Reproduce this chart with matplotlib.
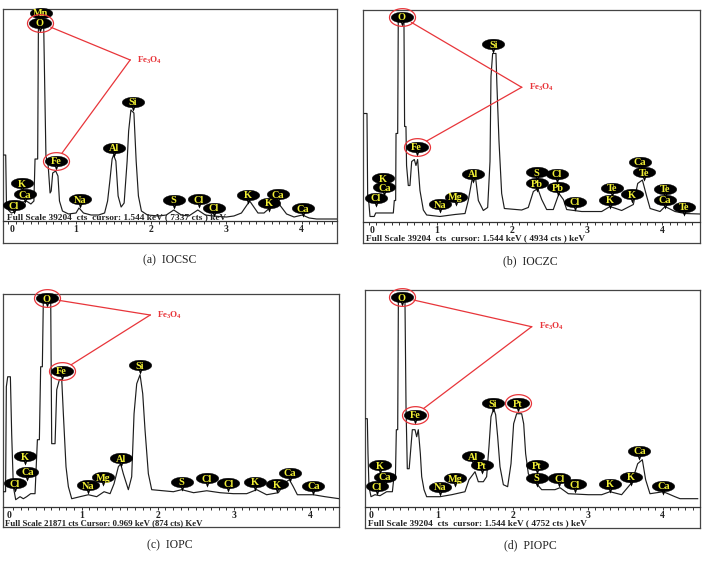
import numpy as np
import matplotlib
matplotlib.use("Agg")
import matplotlib.pyplot as plt
from matplotlib.path import Path

plt.rcParams['font.family'] = ['Liberation Serif', 'DejaVu Serif']
plt.rcParams['mathtext.default'] = 'regular'

# ---------------- data (keV, counts) ----------------
a_kev = [0.03, 0.065, 0.075, 0.10, 0.14, 0.18, 0.22, 0.26, 0.34, 0.40, 0.44, 0.455, 0.49, 0.50, 0.57, 0.585,
         0.60, 0.63, 0.655, 0.67, 0.69, 0.73, 0.76, 0.78, 0.82, 0.90, 1.00, 1.04, 1.10, 1.20, 1.30, 1.38,
         1.42, 1.45, 1.48, 1.50, 1.53, 1.56, 1.60, 1.64, 1.68, 1.70, 1.73, 1.77, 1.80, 1.83, 1.87, 1.95,
         2.10, 2.20, 2.30, 2.40, 2.50, 2.62, 2.72, 2.82, 3.00, 3.10, 3.20, 3.31, 3.42, 3.50, 3.59, 3.69,
         3.80, 3.90, 4.01, 4.10, 4.20, 4.47]
a_cts = [12220, 12220, 2960, 2040, 1480, 1670, 2590, 3330, 3700, 3150, 3700, 11480, 11480, 36300, 36300, 24080,
         12040, 10190, 5190, 5560, 8890, 9260, 8330, 3700, 1850, 1300, 1480, 2410, 1480, 1110, 1110, 1480,
         3700, 7410, 11480, 12220, 11110, 4630, 2590, 3330, 11110, 16670, 20560, 20000, 11110, 4630, 1850, 1110,
         930, 1110, 2040, 1110, 930, 2040, 1110, 930, 740, 930, 1480, 3700, 1480, 1480, 2590, 3330,
         1300, 740, 1110, 560, 370, 370]
a_tags = ['Mn', 'O', 'Fe', 'K', 'Ca', 'Cl', 'Na', 'Al', 'Si', 'S', 'Cl', 'Cl', 'K', 'K', 'Ca', 'Ca']
a_tag_kev = [0.53, 0.52, 0.74, 0.28, 0.32, 0.17, 1.05, 1.50, 1.76, 2.30, 2.63, 2.83, 3.29, 3.57, 3.69, 4.02]
a_tag_cts = [38580, 36720, 11170, 6980, 4940, 2960, 4020, 13580, 22090, 3890, 4020, 2460, 4820, 3390, 4940, 2350]

b_kev = [0.039, 0.074, 0.083, 0.10, 0.114, 0.17, 0.19, 0.424, 0.437, 0.455, 0.46, 0.482, 0.49, 0.565, 0.574,
         0.592, 0.60, 0.623, 0.645, 0.668, 0.703, 0.725, 0.747, 0.778, 0.823, 0.867, 1.044, 1.244, 1.377,
         1.42, 1.473, 1.518, 1.554, 1.62, 1.678, 1.709, 1.722, 1.744, 1.788, 1.80, 1.828, 1.864, 1.90, 2.13,
         2.218, 2.285, 2.343, 2.396, 2.462, 2.55, 2.626, 2.684, 2.728, 2.927, 3.193, 3.304, 3.459, 3.614,
         3.672, 3.734, 3.792, 3.837, 3.969, 4.035, 4.168, 4.301, 4.50]
b_cts = [20020, 20020, 4640, 3340, 930, 930, 1580, 1580, 3890, 3890, 16320, 16320, 38010, 38010, 17610,
         17610, 10380, 6670, 6670, 11120, 11490, 10380, 11490, 5750, 2130, 1210, 930, 1300, 1480,
         3890, 7970, 7970, 3890, 2040, 2600, 11120, 26880, 31150, 31150, 25590, 15020, 5190, 2410, 2130,
         2600, 5560, 6120, 4080, 2220, 2220, 5190, 4080, 2220, 1850, 1850, 2780, 2040, 3150,
         7050, 7690, 4640, 2410, 1850, 2780, 1850, 1480, 1390]
b_tags = ['O', 'Fe', 'Si', 'K', 'Ca', 'Cl', 'Na', 'Mg', 'Al', 'S', 'Pb', 'Cl', 'Pb', 'Cl', 'Te', 'K', 'K',
          'Ca', 'Te', 'Te', 'Ca', 'Te']
b_tag_kev = [0.535, 0.734, 1.755, 0.29, 0.305, 0.19, 1.044, 1.253, 1.487, 2.33, 2.33, 2.595, 2.617, 2.84,
             3.326, 3.30, 3.59, 3.70, 3.76, 4.035, 4.035, 4.29]
b_tag_cts = [37970, 13870, 32850, 8010, 6340, 4410, 3240, 4600, 8810, 9120, 7080, 8810, 6340, 3670,
             6270, 3990, 5040, 11090, 9120, 6030, 3990, 2740]

c_kev = [-0.029, 0.0, 0.01, 0.028, 0.063, 0.08, 0.102, 0.133, 0.19, 0.233, 0.277, 0.33, 0.387, 0.418, 0.444,
         0.461, 0.483, 0.496, 0.593, 0.606, 0.65, 0.672, 0.707, 0.738, 0.759, 0.794, 0.825, 0.869, 0.978,
         1.088, 1.197, 1.294, 1.373, 1.425, 1.482, 1.512, 1.547, 1.613, 1.657, 1.688, 1.723, 1.767, 1.802,
         1.832, 1.876, 1.92, 2.205, 2.314, 2.47, 2.643, 2.818, 2.993, 3.168, 3.30, 3.43, 3.584, 3.672,
         3.729, 3.78, 3.834, 4.044, 4.197, 4.385]
c_cts = [1540, 1540, 12340, 13360, 13360, 7500, 2060, 720, 1030, 820, 1030, 1340, 1340, 6890, 6890,
         14390, 14390, 21280, 21280, 6480, 6480, 12030, 13060, 13060, 9560, 4110, 2060, 820, 1030,
         1230, 1030, 1540, 1340, 2360, 4110, 4420, 3390, 1750, 3080, 9560, 12640, 13570, 11620,
         7920, 3390, 1750, 1540, 1750, 1440, 1640, 1440, 1340, 1340, 1750, 1230, 1440, 2470,
         2780, 2060, 1230, 1230, 1030, 820]
c_tags = ['O', 'Fe', 'Si', 'K', 'Ca', 'Cl', 'Na', 'Mg', 'Al', 'S', 'Cl', 'Cl', 'K', 'K', 'Ca', 'Ca']
c_tag_kev = [0.54, 0.737, 1.767, 0.255, 0.286, 0.124, 1.088, 1.285, 1.512, 2.314, 2.643, 2.927, 3.278,
             3.562, 3.74, 4.044]
c_tag_cts = [21420, 13980, 14570, 5210, 3600, 2410, 2230, 3020, 4980, 2570, 2920, 2410, 2570, 2330, 3500, 2130]

d_kev = [0.04, 0.062, 0.071, 0.084, 0.111, 0.164, 0.231, 0.32, 0.396, 0.413, 0.436, 0.449, 0.467, 0.476,
         0.564, 0.578, 0.595, 0.62, 0.662, 0.698, 0.72, 0.742, 0.769, 0.787, 0.818, 0.853, 1.031, 1.187,
         1.364, 1.418, 1.498, 1.542, 1.609, 1.653, 1.684, 1.711, 1.747, 1.773, 1.80, 1.831, 1.876, 1.933,
         1.978, 2.013, 2.053, 2.12, 2.147, 2.173, 2.209, 2.253, 2.307, 2.387, 2.564, 2.631, 2.742, 3.009,
         3.187, 3.298, 3.453, 3.587, 3.667, 3.729, 3.773, 3.831, 4.009, 4.164, 4.231, 4.467]
d_cts = [15920, 15920, 9590, 3620, 1810, 2170, 1990, 2710, 2710, 4880, 4880, 13930, 13930, 37270,
         37270, 18090, 6870, 6870, 13930, 13930, 12660, 13930, 9590, 5430, 3080, 1810, 1810, 2170,
         2710, 4880, 6330, 4520, 4520, 5430, 10850, 16280, 17730, 16640, 12660, 7240, 3980, 3620,
         7780, 15010, 16820, 16820, 15010, 9590, 5970, 4880, 4340, 3080, 3080, 3440, 2350, 2170,
         2170, 2710, 2170, 4340, 7780, 8500, 4880, 2350, 2710, 1810, 1450, 1450]
d_tags = ['O', 'Fe', 'Si', 'Pt', 'Al', 'Pt', 'K', 'Ca', 'Cl', 'Na', 'Mg', 'Pt', 'S', 'Cl', 'Cl', 'K', 'K',
          'Ca', 'Ca']
d_tag_kev = [0.52, 0.698, 1.733, 2.067, 1.476, 1.587, 0.231, 0.298, 0.187, 1.031, 1.231, 2.32, 2.32, 2.622,
             2.831, 3.298, 3.578, 3.689, 4.009]
d_tag_cts = [37880, 16590, 18710, 18710, 9170, 7540, 7540, 5430, 3740, 3620, 5140, 7540, 5250, 5140,
             4050, 4110, 5430, 10080, 3800]

full_scale = [39204, 39204, 21871, 39204]
info_texts = ['Full Scale 39204  cts  cursor: 1.544 keV ( 7337 cts ) keV',
              'Full Scale 39204  cts  cursor: 1.544 keV ( 4934 cts ) keV',
              'Full Scale 21871 cts Cursor: 0.969 keV (874 cts) KeV',
              'Full Scale 39204  cts  cursor: 1.544 keV ( 4752 cts ) keV']
captions = ['(a)  IOCSC', '(b)  IOCZC', '(c)  IOPC', '(d)  PIOPC']
fe3o4_apex = [(1.72, 29820), (2.13, 24880), (1.90, 19710), (2.253, 32560)]
ringed = [[1, 2], [0, 1], [0, 1], [0, 1, 3]]
linked = [[1, 2], [0, 1], [0, 1], [0, 1]]

# ---------------- layout (pixels) ----------------
W, H = 708, 562
fig = plt.figure(figsize=(W / 100, H / 100), dpi=100)
fig.patch.set_facecolor('white')


def frac(x0, y0, x1, y1):
    return [x0 / W, 1 - y1 / H, (x1 - x0) / W, (y1 - y0) / H]


layout = [
    dict(box=(3.3, 9.3, 337.3, 242.7), axis_y=221.0, xlim=(0.033, 4.475), zero=0.15,
         info_xy=(7, 216.7), info_fs=6.65, cap_xy=(170, 260)),
    dict(box=(363.3, 10.0, 700.0, 242.7), axis_y=221.5, xlim=(0.025, 4.50), zero=0.14,
         info_xy=(366.5, 237.7), info_fs=6.65, cap_xy=(530, 261)),
    dict(box=(3.3, 294.0, 339.3, 527.3), axis_y=506.7, xlim=(-0.03, 4.385), zero=0.04,
         info_xy=(5, 522.7), info_fs=6.3, cap_xy=(170, 545)),
    dict(box=(365.0, 290.0, 700.0, 528.0), axis_y=506.7, xlim=(0.031, 4.498), zero=0.11,
         info_xy=(368.3, 522.7), info_fs=6.65, cap_xy=(530, 545)),
]

spectra = [(a_kev, a_cts, a_tags, a_tag_kev, a_tag_cts),
           (b_kev, b_cts, b_tags, b_tag_kev, b_tag_cts),
           (c_kev, c_cts, c_tags, c_tag_kev, c_tag_cts),
           (d_kev, d_cts, d_tags, d_tag_kev, d_tag_cts)]

# marker paths: black tag (ellipse + pointer) and red ring
t = np.linspace(0, 2 * np.pi, 64)
asp = 0.47
ell = Path(np.column_stack([np.cos(t), asp * np.sin(t)]), closed=True)
tri = Path([(-0.13, -asp + 0.05), (0.13, -asp + 0.05), (0.0, -asp - 0.30), (-0.13, -asp + 0.05)], closed=True)
tag_path = Path.make_compound_path(ell, tri)
ring_asp = 0.68
ring_path = Path(np.column_stack([np.cos(t), ring_asp * np.sin(t)]), closed=True)

TAG_W = 22.5   # px
RING_W = 26.0  # px
RED = '#e8353a'
YEL = '#f2f035'


def ring_edge(ax, cx, cy, tx, ty):
    p0 = ax.transData.transform((cx, cy))
    p1 = ax.transData.transform((tx, ty))
    d = p1 - p0
    ang = np.arctan2(d[1], d[0])
    rx, ry = RING_W / 2, RING_W * ring_asp / 2
    r = 1.0 / np.sqrt((np.cos(ang) / rx) ** 2 + (np.sin(ang) / ry) ** 2)
    pe = p0 + r * np.array([np.cos(ang), np.sin(ang)])
    return ax.transData.inverted().transform(pe)


for i, (lay, spec) in enumerate(zip(layout, spectra)):
    kev, cts, tags, tkev, tcts = spec
    x0, y0, x1, y1 = lay['box']
    frame = fig.add_axes(frac(x0, y0, x1, y1))
    frame.set_xticks([])
    frame.set_yticks([])
    for s in frame.spines.values():
        s.set_color('#444444')
        s.set_linewidth(0.9)

    ax = fig.add_axes(frac(x0, y0, x1, lay['axis_y']))
    ax.patch.set_alpha(0)
    ax.set_xlim(*lay['xlim'])
    ax.set_ylim(0, full_scale[i])
    for s in ('top', 'left', 'right'):
        ax.spines[s].set_visible(False)
    ax.spines['bottom'].set_color('#333333')
    ax.spines['bottom'].set_linewidth(0.9)
    ax.set_yticks([])
    ax.set_xticks([1, 2, 3, 4])
    ax.set_xticks(np.round(np.arange(0.1, lay['xlim'][1], 0.1), 1), minor=True)
    ax.tick_params(axis='x', which='both', direction='out', length=2.3, width=0.7,
                   color='#333333', labelsize=7, pad=0.6)
    for lb in ax.get_xticklabels():
        lb.set_fontweight('bold')
        lb.set_color('#222222')
    ax.annotate('0', xy=(lay['zero'], 0), xycoords=('data', 'axes fraction'),
                xytext=(0, -2.9), textcoords='offset points', ha='center', va='top',
                fontsize=7, fontweight='bold', color='#222222', annotation_clip=False)

    ax.plot(kev, cts, color='#1e1e1e', lw=0.85, zorder=2)

    # element tags
    for name, xk, yc in zip(tags, tkev, tcts):
        ax.plot([xk], [yc], marker=tag_path, ms=TAG_W * 0.72, mfc='black', mec='black',
                mew=0.3, zorder=5, clip_on=False)
        ax.text(xk, yc, name, ha='center', va='center_baseline', fontsize=7.4,
                fontweight='bold', color=YEL, zorder=6, clip_on=False)

    # red rings
    for j in ringed[i]:
        ax.plot([tkev[j]], [tcts[j]], marker=ring_path, ms=RING_W * 0.72, mfc='none',
                mec=RED, mew=0.9, zorder=7, clip_on=False)

    # Fe3O4 link lines
    axk, ayc = fe3o4_apex[i]
    for j in linked[i]:
        ex, ey = ring_edge(ax, tkev[j], tcts[j], axk, ayc)
        ax.plot([ex, axk], [ey, ayc], color=RED, lw=0.9, zorder=4, clip_on=False)
    ax.annotate(r'Fe$_3$O$_4$', xy=(axk, ayc), xytext=(5, 0), textcoords='offset points',
                ha='left', va='center', fontsize=6.5, fontweight='bold', color=RED)

    ix, iy = lay['info_xy']
    fig.text(ix / W, 1 - iy / H, info_texts[i], ha='left', va='center', fontsize=lay['info_fs'],
             fontweight='bold', color='#222222', zorder=8)
    cx, cy = lay['cap_xy']
    fig.text(cx / W, 1 - cy / H, captions[i], ha='center', va='center', fontsize=8.5,
             color='#222222')

fig.savefig('out.png', dpi=100, facecolor='white')
